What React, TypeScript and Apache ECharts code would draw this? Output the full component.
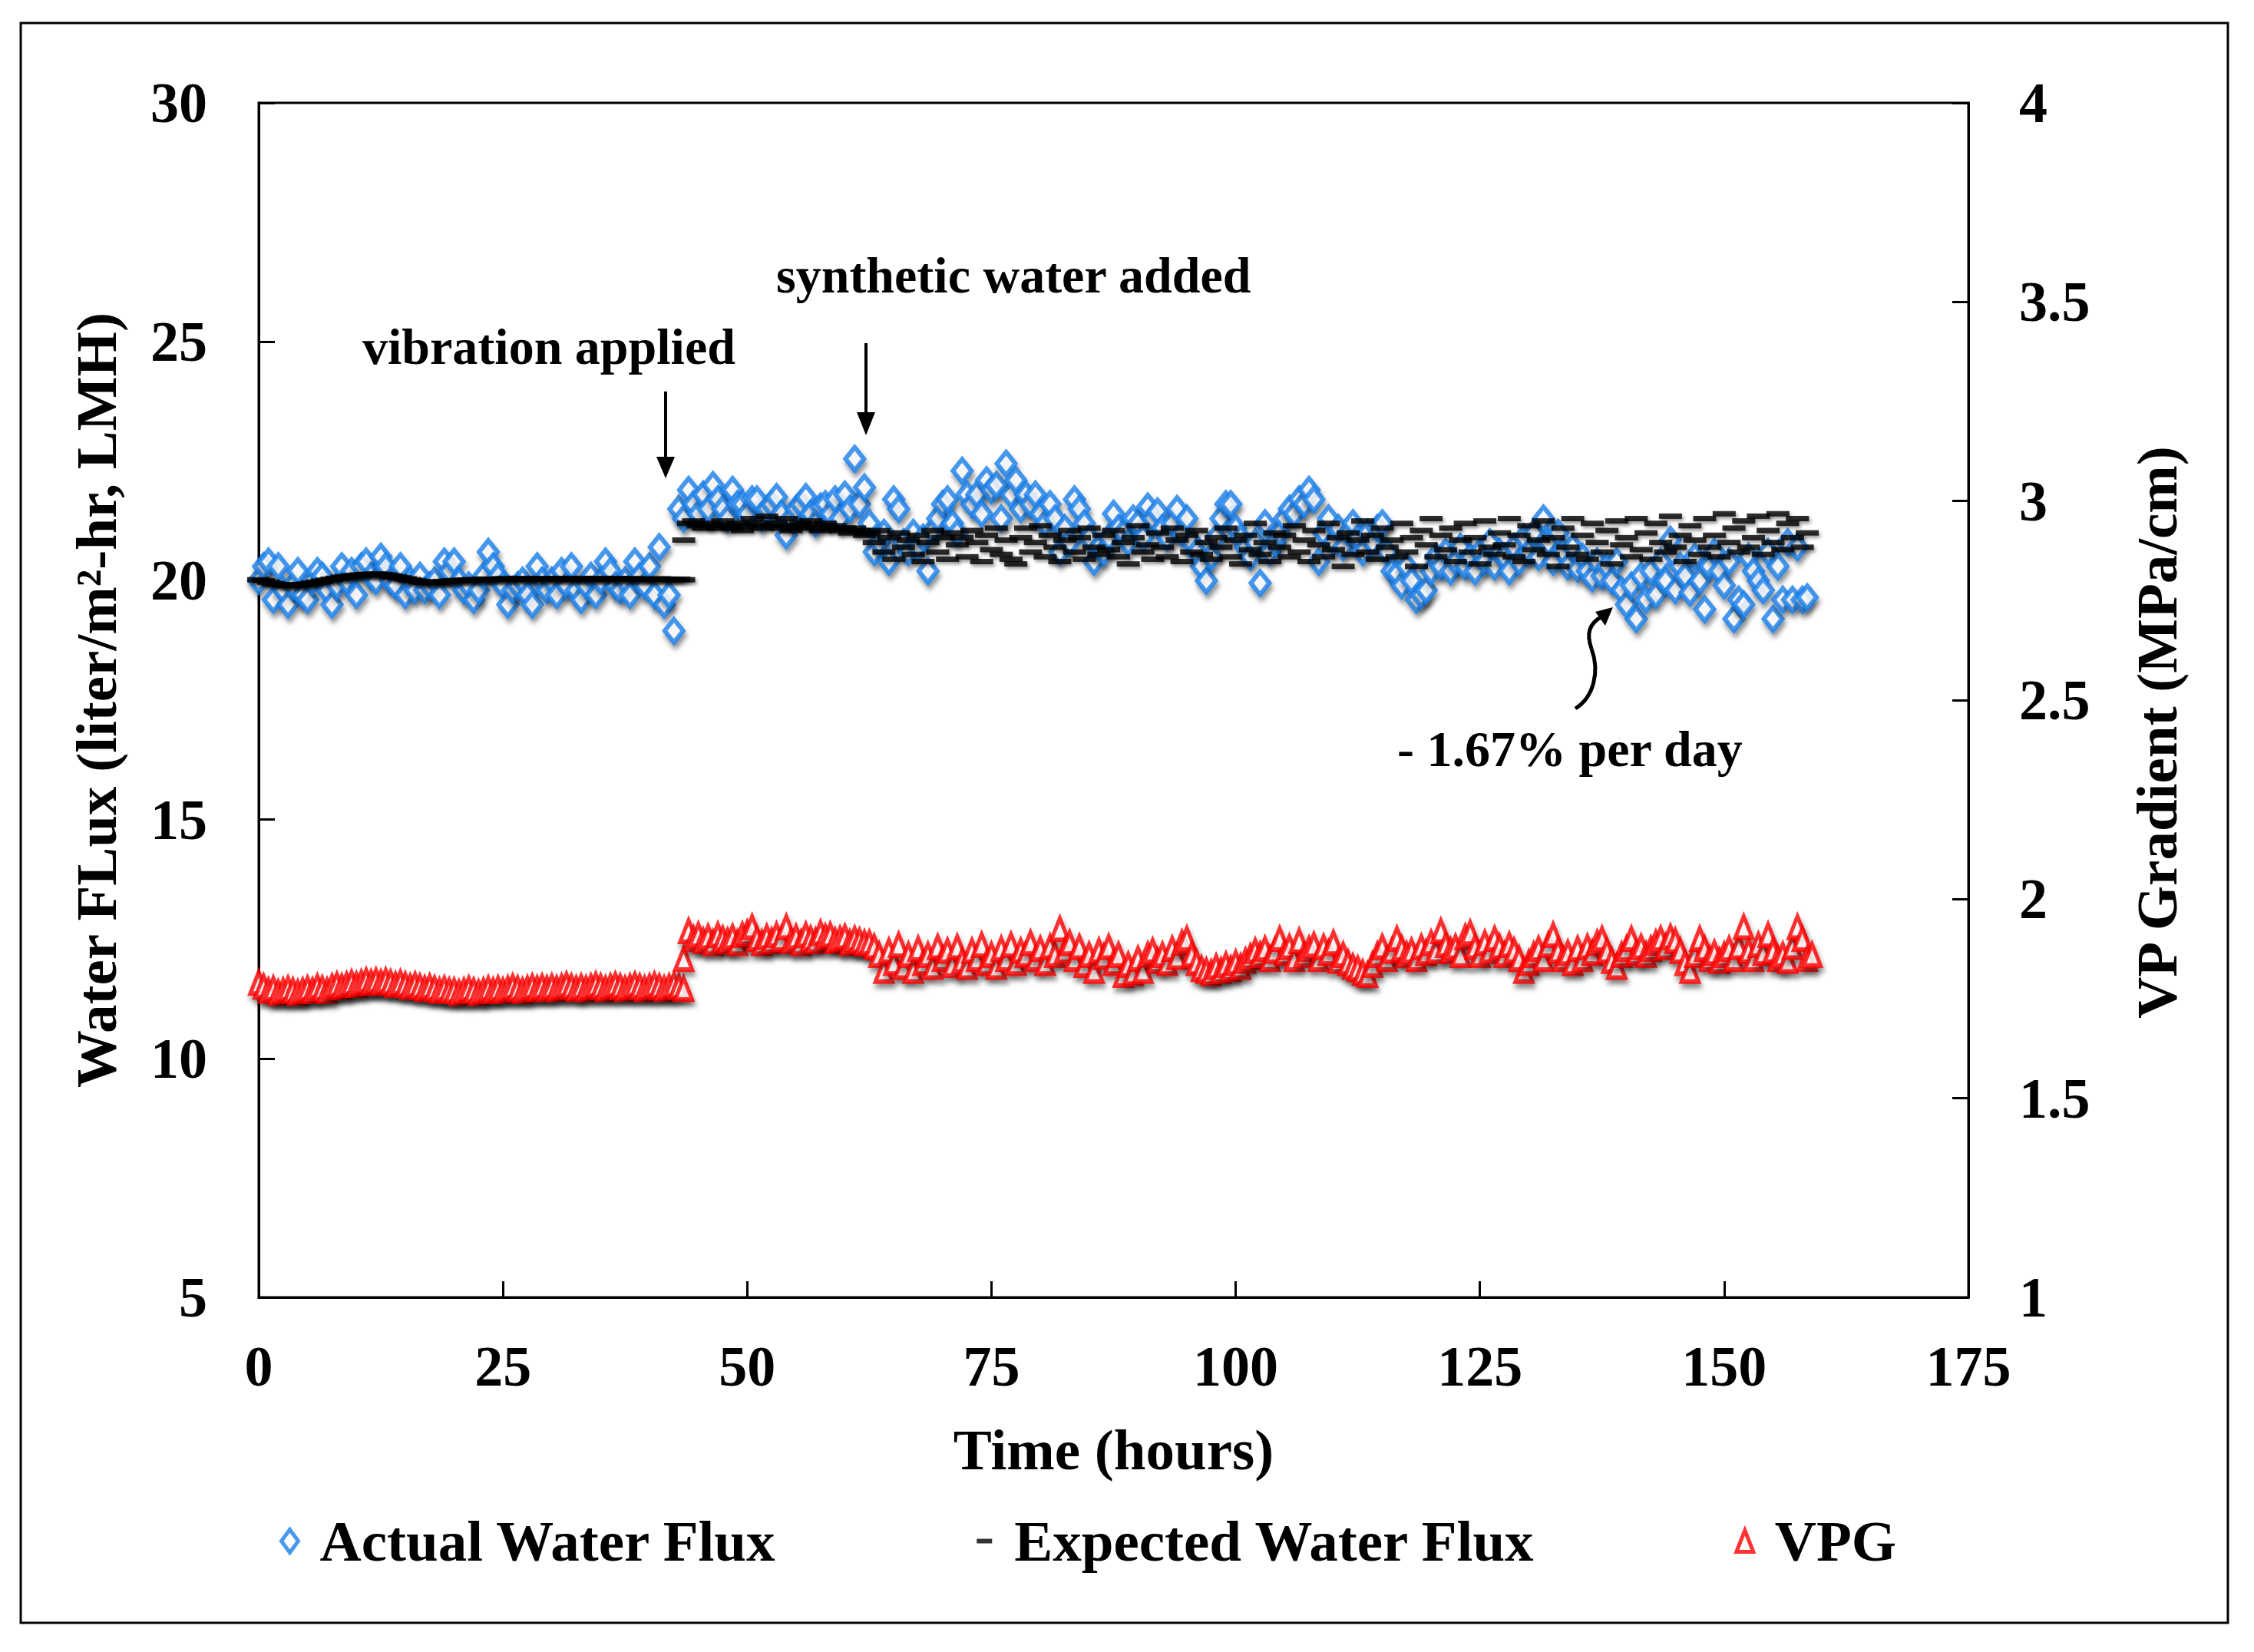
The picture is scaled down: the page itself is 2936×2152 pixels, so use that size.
import React, { useEffect, useRef } from "react";
import * as echarts from "echarts";

const FONT = "'Liberation Serif', 'Times New Roman', serif";
const BLUE = "#1a80ea";
const RED = "#ff0000";

// Axis ranges
const X_MIN = 0, X_MAX = 175, X_STEP = 25;
const FLUX_MIN = 5, FLUX_MAX = 30, FLUX_STEP = 5;
const VPG_MIN = 1, VPG_MAX = 4, VPG_STEP = 0.5;

// Sampling interval of the logged data (hours)
const SAMPLE_STEP_HOURS = 0.5;

// Actual water flux (LMH)
const actualPhase1Start = 0;
const actualPhase1 = [
  20.0, 20.3, 20.4, 19.6, 20.3, 19.8, 19.5, 19.9, 20.2, 19.7,
  19.6, 20.0, 20.2, 20.1, 19.8, 19.5, 19.9, 20.3, 20.0, 20.2,
  19.7, 20.3, 20.4, 20.1, 20.0, 20.5, 20.3, 20.0, 19.9, 20.3,
  19.7, 20.0, 19.8, 20.1, 19.8, 19.9, 20.0, 19.7, 20.4, 20.2,
  20.4, 20.0, 19.8, 19.9, 19.6, 19.8, 20.1, 20.6, 20.3, 20.1,
  19.9, 19.5, 19.8, 19.9, 20.0, 19.7, 19.5, 20.3, 20.0, 19.8,
  20.0, 19.7, 20.2, 19.9, 20.3, 19.8, 19.6, 19.9, 20.1, 19.7,
  20.0, 20.4, 20.2, 19.9, 19.8, 20.0, 19.7, 20.4, 20.1, 19.9,
  20.3, 19.7, 20.7, 19.5, 19.7, 18.95, 21.5,
];
const actualPhase2Start = 43.5;
const actualPhase2 = [
  21.3, 21.9, 21.6, 21.4, 21.8, 21.5, 22.0, 21.7, 21.5, 21.3,
  21.9, 21.6, 21.6, 21.4, 21.7, 21.7, 21.3, 21.5, 21.6, 21.75,
  21.4, 20.95, 21.3, 21.5, 21.6, 21.75, 21.4, 21.2, 21.55, 21.6,
  21.4, 21.7, 21.3, 21.8, 21.5, 22.55, 21.6, 21.95,
];
const actualPhase3Start = 62.5;
const actualPhase3 = [
  21.2, 20.6, 20.8, 21.0, 20.4, 21.7, 21.5, 20.8, 20.6, 21.0,
  20.7, 20.9, 20.2, 21.05, 21.3, 21.6, 21.7, 21.2, 21.0, 22.3,
  21.8, 21.6, 21.8, 21.4, 22.1, 21.9, 22.0, 21.3, 22.45, 21.8,
  22.1, 21.5, 21.8, 21.6, 21.8, 21.4, 21.2, 21.6, 21.3, 20.6,
  21.1, 20.8, 21.7, 21.5, 21.2, 20.9, 20.4, 20.7, 20.6, 20.9,
  21.4, 21.1, 21.0, 20.8, 21.3, 21.2, 20.9, 21.55, 21.3, 21.45,
  21.1, 20.9, 21.2, 21.5, 21.0, 21.3, 20.8, 20.6, 20.3, 20.0,
  20.5, 20.9, 21.3, 21.6, 21.6, 21.1, 20.9, 20.7, 20.5, 20.8,
  19.95, 21.2, 20.6, 20.8, 21.0, 21.3, 21.5, 21.4, 21.7, 21.6,
  21.9, 21.7, 20.4, 21.0, 21.3, 20.8, 21.1, 20.7, 21.0, 21.2,
  20.9, 20.6, 21.0, 20.8, 21.1, 21.2, 20.6, 20.2, 20.15, 19.9,
  20.3, 20.0, 19.6, 19.7, 19.8, 20.2, 20.5, 20.3, 20.6, 20.2,
  20.4, 20.7, 20.3, 20.5, 20.2, 20.6, 20.4, 20.8, 20.3, 20.6,
  20.5, 20.2, 20.7, 20.4, 20.9, 20.6, 21.0, 20.5, 21.3, 20.8,
  20.4, 21.0, 20.6, 20.3, 20.7, 20.25, 20.5, 20.2, 20.05, 20.4,
  20.1, 20.3, 20.0, 20.4, 19.8, 19.5, 19.9, 19.2, 20.1, 19.6,
  20.2, 19.7, 20.4, 20.0, 20.85, 19.8, 20.3, 20.1, 19.75, 20.5,
  20.0, 19.4, 20.3, 20.6, 20.2, 19.9, 20.4, 19.2, 19.6, 19.5,
  20.5, 20.2, 20.0, 19.8, 20.6, 19.2, 20.3, 19.6, 20.8, 19.6,
  20.7, 19.6, 19.65,
];

// Expected water flux (LMH)
const expectedPhase1Start = 0;
const expectedPhase1 = [
  20.02, 20.0, 19.97, 19.94, 19.92, 19.91, 19.9, 19.9, 19.91, 19.92,
  19.93, 19.95, 19.97, 19.99, 20.01, 20.03, 20.05, 20.07, 20.08, 20.1,
  20.11, 20.12, 20.13, 20.13, 20.14, 20.13, 20.12, 20.1, 20.08, 20.06,
  20.04, 20.02, 20.0, 19.98, 19.97, 19.96, 19.96, 19.97, 19.98, 19.99,
  20.0, 20.0, 20.01, 20.01, 20.02, 20.02, 20.03, 20.03, 20.03, 20.03,
  20.04, 20.04, 20.03, 20.04, 20.04, 20.04, 20.03, 20.04, 20.04, 20.04,
  20.03, 20.04, 20.04, 20.04, 20.03, 20.04, 20.04, 20.04, 20.03, 20.04,
  20.04, 20.04, 20.03, 20.04, 20.04, 20.03, 20.04, 20.04, 20.03, 20.03,
  20.03, 20.03, 20.04, 20.03, 20.03, 20.02, 20.03, 20.02,
];
const expectedPhase2Start = 43.5;
const expectedPhase2 = [
  20.85, 21.2, 21.25, 21.15, 21.1, 21.2, 21.15, 21.1, 21.25, 21.15,
  21.1, 21.2, 21.05, 21.15, 21.3, 21.2, 21.1, 21.35, 21.15, 21.2,
  21.1, 21.3, 21.05, 21.15, 21.2, 21.1, 21.25, 21.15, 21.05, 21.2,
  21.1, 21.15, 21.05, 21.1, 21.0, 21.1, 21.05, 20.95,
];
const expectedPhase3Start = 62.5;
const expectedPhase3 = [
  21.0, 20.8, 21.05, 20.6, 20.9, 20.45, 21.0, 20.7, 20.85, 20.55,
  20.95, 20.4, 20.8, 21.05, 20.6, 20.9, 20.45, 21.0, 20.75, 20.9,
  20.5, 21.05, 20.8, 20.4, 20.95, 20.65, 21.1, 20.55, 20.85, 20.45,
  20.35, 20.9, 21.1, 20.6, 20.8, 21.15, 20.5, 20.95, 20.7, 20.4,
  20.85, 21.05, 20.6, 20.9, 20.45, 21.1, 20.7, 20.55, 20.95, 20.65,
  21.05, 20.5, 20.8, 20.35, 20.9, 21.15, 20.6, 20.75, 20.45, 21.0,
  20.7, 20.5, 21.1, 20.85, 20.4, 20.95, 20.6, 21.05, 20.55, 20.8,
  20.45, 20.9, 20.7, 21.1, 20.5, 20.85, 20.35, 20.95, 20.65, 21.2,
  20.55, 20.8, 20.4, 21.0, 20.7, 20.95, 20.5, 21.15, 20.6, 20.85,
  20.4, 21.05, 20.75, 20.5, 21.2, 20.65, 20.9, 20.3, 21.0, 20.55,
  20.85, 21.25, 20.6, 20.95, 20.45, 21.1, 20.7, 20.85, 20.5, 21.2,
  20.6, 20.9, 20.3, 21.05, 20.75, 21.3, 20.5, 20.95, 20.65, 21.1,
  20.4, 20.85, 21.2, 20.6, 20.9, 20.35, 21.25, 20.7, 20.55, 21.0,
  20.75, 21.3, 20.5, 20.95, 20.4, 21.15, 20.65, 20.85, 21.25, 20.55,
  20.9, 20.3, 21.1, 20.7, 21.3, 20.55, 20.95, 20.45, 21.2, 20.8,
  20.6, 21.05, 20.35, 21.25, 20.75, 20.9, 20.5, 21.3, 20.65, 21.0,
  20.45, 21.2, 20.8, 20.6, 21.35, 20.7, 20.95, 20.4, 21.15, 20.85,
  20.55, 21.3, 20.7, 20.95, 20.5, 21.4, 20.8, 21.1, 20.6, 21.25,
  20.7, 20.9, 21.35, 20.55, 21.05, 20.8, 21.4, 20.65, 21.2, 20.9,
  21.3, 20.7, 21.0,
];

// Vapour pressure gradient (MPa/cm)
const vpgPhase1Start = 0;
const vpgPhase1 = [
  1.79, 1.78, 1.77, 1.775, 1.765, 1.77, 1.775, 1.77, 1.765, 1.77,
  1.775, 1.77, 1.78, 1.775, 1.77, 1.78, 1.785, 1.78, 1.785, 1.79,
  1.785, 1.79, 1.795, 1.79, 1.795, 1.79, 1.795, 1.79, 1.785, 1.79,
  1.785, 1.78, 1.785, 1.78, 1.775, 1.78, 1.775, 1.77, 1.775, 1.77,
  1.77, 1.765, 1.77, 1.775, 1.77, 1.765, 1.77, 1.775, 1.77, 1.775,
  1.77, 1.775, 1.78, 1.775, 1.77, 1.775, 1.78, 1.775, 1.78, 1.775,
  1.78, 1.775, 1.78, 1.785, 1.78, 1.775, 1.78, 1.775, 1.78, 1.785,
  1.78, 1.775, 1.78, 1.785, 1.78, 1.775, 1.78, 1.785, 1.78, 1.775,
  1.78, 1.785, 1.78, 1.775, 1.78, 1.785, 1.78, 1.775,
];
const vpgPhase2Start = 43.5;
const vpgPhase2 = [
  1.85, 1.92, 1.90, 1.91, 1.895, 1.905, 1.89, 1.91, 1.90, 1.895,
  1.905, 1.89, 1.91, 1.915, 1.93, 1.90, 1.89, 1.905, 1.895, 1.91,
  1.90, 1.93, 1.895, 1.905, 1.89, 1.91, 1.90, 1.895, 1.915, 1.905,
  1.91, 1.895, 1.90, 1.905, 1.89, 1.90, 1.895, 1.89,
];
const vpgPhase3Start = 62.5;
const vpgPhase3 = [
  1.89, 1.88, 1.86, 1.82, 1.87, 1.84, 1.885, 1.83, 1.86, 1.82,
  1.875, 1.84, 1.86, 1.83, 1.88, 1.85, 1.87, 1.835, 1.88, 1.845,
  1.83, 1.87, 1.85, 1.885, 1.84, 1.86, 1.83, 1.875, 1.85, 1.885,
  1.84, 1.87, 1.86, 1.89, 1.85, 1.875, 1.84, 1.88, 1.86, 1.925,
  1.87, 1.89, 1.85, 1.88, 1.835, 1.86, 1.82, 1.87, 1.855, 1.88,
  1.84, 1.86, 1.81, 1.835, 1.815, 1.85, 1.82, 1.86, 1.87, 1.845,
  1.86, 1.84, 1.875, 1.855, 1.89, 1.90, 1.86, 1.84, 1.825, 1.82,
  1.815, 1.83, 1.82, 1.835, 1.825, 1.84, 1.83, 1.845, 1.855, 1.87,
  1.86, 1.875, 1.85, 1.87, 1.90, 1.865, 1.88, 1.85, 1.895, 1.86,
  1.875, 1.885, 1.85, 1.88, 1.865, 1.89, 1.845, 1.86, 1.84, 1.83,
  1.825, 1.815, 1.81, 1.835, 1.86, 1.88, 1.85, 1.87, 1.90, 1.875,
  1.86, 1.87, 1.85, 1.88, 1.865, 1.89, 1.87, 1.92, 1.885, 1.87,
  1.88, 1.86, 1.905, 1.915, 1.88, 1.86, 1.89, 1.87, 1.90, 1.88,
  1.86, 1.885, 1.87, 1.85, 1.82, 1.84, 1.86, 1.875, 1.85, 1.885,
  1.91, 1.87, 1.85, 1.865, 1.84, 1.875, 1.85, 1.88, 1.865, 1.89,
  1.90, 1.87, 1.845, 1.83, 1.86, 1.875, 1.90, 1.865, 1.88, 1.86,
  1.875, 1.89, 1.90, 1.88, 1.905, 1.895, 1.87, 1.84, 1.82, 1.86,
  1.90, 1.875, 1.85, 1.865, 1.845, 1.86, 1.875, 1.85, 1.88, 1.93,
  1.87, 1.85, 1.885, 1.865, 1.91, 1.87, 1.85, 1.86, 1.845, 1.88,
  1.93, 1.90, 1.85, 1.86,
];

const SERIES_NAMES = ["Actual Water Flux", "Expected Water Flux", "VPG"];

const toPoints = (start: number, values: number[]) =>
  values.map((v, i) => [start + i * SAMPLE_STEP_HOURS, v]);

const shadow = {
  shadowBlur: 6,
  shadowColor: "rgba(0,0,0,0.5)",
  shadowOffsetX: 2,
  shadowOffsetY: 6,
};

const labelFont = { color: "#000", fontFamily: FONT, fontWeight: "bold" as const, fontSize: 74 };
const titleFont = { color: "#000", fontFamily: FONT, fontWeight: "bold" as const, fontSize: 75 };
const annFont = `bold 66px ${FONT}`;

function text(x: number, y: number, t: string) {
  return {
    type: "text",
    x,
    y,
    silent: true,
    style: {
      text: t,
      font: annFont,
      fill: "#000",
      textAlign: "left",
      align: "left",
      textVerticalAlign: "middle",
      verticalAlign: "middle",
    },
  };
}

export default function App() {
  const ref = useRef<HTMLDivElement>(null);
  useEffect(() => {
    document.body.style.margin = "0";
    if (!ref.current) return;
    const chart = echarts.init(ref.current, null, { renderer: "svg" });

    const actual = [
      ...toPoints(actualPhase1Start, actualPhase1),
      ...toPoints(actualPhase2Start, actualPhase2),
      ...toPoints(actualPhase3Start, actualPhase3),
    ];
    const expected = [
      ...toPoints(expectedPhase1Start, expectedPhase1),
      ...toPoints(expectedPhase2Start, expectedPhase2),
      ...toPoints(expectedPhase3Start, expectedPhase3),
    ];
    const vpg = [
      ...toPoints(vpgPhase1Start, vpgPhase1),
      ...toPoints(vpgPhase2Start, vpgPhase2),
      ...toPoints(vpgPhase3Start, vpgPhase3),
    ];

    const axisLine = { show: true, lineStyle: { color: "#000", width: 3 } };
    const axisTick = { show: true, inside: true, length: 21, lineStyle: { color: "#000", width: 3 } };

    chart.setOption({
      animation: false,
      backgroundColor: "#fff",
      grid: {
        left: 337,
        top: 134,
        right: 372,
        bottom: 462,
        show: true,
        borderColor: "#000",
        borderWidth: 3,
        containLabel: false,
      },
      xAxis: {
        type: "value",
        min: X_MIN,
        max: X_MAX,
        interval: X_STEP,
        axisLine,
        axisTick,
        splitLine: { show: false },
        axisLabel: { ...labelFont, margin: 53 },
        name: "Time (hours)",
        nameLocation: "middle",
        nameGap: 161,
        nameTextStyle: titleFont,
      },
      yAxis: [
        {
          type: "value",
          position: "left",
          min: FLUX_MIN,
          max: FLUX_MAX,
          interval: FLUX_STEP,
          axisLine,
          axisTick,
          splitLine: { show: false },
          axisLabel: { ...labelFont, margin: 67 },
          name: "Water FLux (liter/m²-hr, LMH)",
          nameLocation: "middle",
          nameGap: 174,
          nameTextStyle: titleFont,
        },
        {
          type: "value",
          position: "right",
          min: VPG_MIN,
          max: VPG_MAX,
          interval: VPG_STEP,
          axisLine,
          axisTick,
          splitLine: { show: false },
          axisLabel: { ...labelFont, margin: 66 },
          name: "VP Gradient (MPa/cm)",
          nameLocation: "middle",
          nameGap: 208,
          nameTextStyle: { ...titleFont, padding: [0, 84, 0, 0] },
        },
      ],
      legend: {
        left: 341,
        top: 1970,
        padding: 0,
        itemGap: 236,
        itemWidth: 68,
        itemHeight: 30,
        textStyle: titleFont,
        data: [
          {
            name: SERIES_NAMES[0],
            icon: "path://M0,0M68,30M34,0L45,15L34,30L23,15Z",
            itemStyle: { color: "#fff", borderColor: BLUE, borderWidth: 5 },
          },
          {
            name: SERIES_NAMES[1],
            icon: "path://M0,0M68,30M24,12L44,12L44,18L24,18Z",
            itemStyle: { color: "#000", borderWidth: 0 },
          },
          {
            name: SERIES_NAMES[2],
            icon: "path://M0,0M68,30M34,1L45,29L23,29Z",
            itemStyle: { color: "#fff", borderColor: RED, borderWidth: 5 },
          },
        ],
      },
      series: [
        {
          name: SERIES_NAMES[0],
          type: "scatter",
          yAxisIndex: 0,
          data: actual,
          symbol: "diamond",
          symbolSize: [24, 30],
          itemStyle: { color: "#fff", borderColor: BLUE, borderWidth: 6, ...shadow },
        },
        {
          name: SERIES_NAMES[1],
          type: "scatter",
          yAxisIndex: 0,
          data: expected,
          symbol: "rect",
          symbolSize: [30, 7],
          itemStyle: { color: "#000", ...shadow, shadowBlur: 4, shadowOffsetY: 3 },
        },
        {
          name: SERIES_NAMES[2],
          type: "scatter",
          yAxisIndex: 1,
          data: vpg,
          symbol: "triangle",
          symbolSize: [22, 28],
          itemStyle: { color: "#fff", borderColor: RED, borderWidth: 5.5, ...shadow },
        },
      ],
      graphic: [
        {
          type: "rect",
          silent: true,
          shape: { x: 27, y: 30, width: 2875, height: 2084 },
          style: { fill: "none", stroke: "#000", lineWidth: 3 },
        },
        text(472, 451, "vibration applied"),
        text(1011, 358, "synthetic water added"),
        text(1820, 975, "- 1.67% per day"),
        {
          type: "line",
          silent: true,
          shape: { x1: 867, y1: 510, x2: 867, y2: 600 },
          style: { stroke: "#000", lineWidth: 4 },
        },
        {
          type: "polygon",
          silent: true,
          shape: { points: [[855, 595], [879, 595], [867, 623]] },
          style: { fill: "#000" },
        },
        {
          type: "line",
          silent: true,
          shape: { x1: 1128, y1: 447, x2: 1128, y2: 542 },
          style: { stroke: "#000", lineWidth: 4 },
        },
        {
          type: "polygon",
          silent: true,
          shape: { points: [[1116, 537], [1140, 537], [1128, 567]] },
          style: { fill: "#000" },
        },
        {
          type: "bezierCurve",
          silent: true,
          shape: { x1: 2052, y1: 923, cpx1: 2076, cpy1: 908, cpx2: 2084, cpy2: 875, x2: 2073, y2: 845 },
          style: { stroke: "#000", lineWidth: 5, fill: "none" },
        },
        {
          type: "bezierCurve",
          silent: true,
          shape: { x1: 2073, y1: 845, cpx1: 2066, cpy1: 825, cpx2: 2070, cpy2: 812, x2: 2087, y2: 803 },
          style: { stroke: "#000", lineWidth: 5, fill: "none" },
        },
        {
          type: "polygon",
          silent: true,
          shape: { points: [[2101, 791], [2078, 797], [2091, 815]] },
          style: { fill: "#000" },
        },
      ],
    });

    return () => chart.dispose();
  }, []);

  return <div ref={ref} style={{ width: 2936, height: 2152 }} />;
}
